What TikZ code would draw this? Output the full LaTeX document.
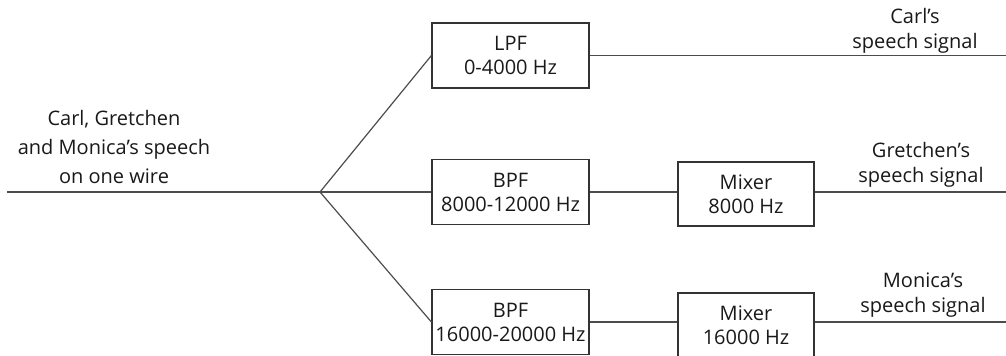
\documentclass[tikz,border=0pt]{standalone}
\usepackage{fontspec}
\setmainfont{Open Sans}
\begin{document}
\begin{tikzpicture}[x=0.5pt,y=-0.5pt,
    wire/.style={draw=black!70,line width=0.6pt},
    filterbox/.style={draw=black!80,line width=0.6pt,minimum width=78.5pt,minimum height=32.5pt,
      align=center,inner sep=0pt,font=\fontsize{10}{12}\selectfont,text=black!90},
    mixerbox/.style={filterbox,minimum width=68pt,minimum height=32pt},
    sigtext/.style={align=center,font=\fontsize{10}{12.5}\selectfont,text=black!90}]

      \clip (0,0) rectangle (1006,355);

      % blocks
      \node[filterbox] (lpf)  at (510.5,55.5) {LPF\\0-4000 Hz};
      \node[filterbox] (bpfa) at (510.5,192) {BPF\\8000-12000 Hz};
      \node[filterbox] (bpfb) at (510.5,322) {BPF\\16000-20000 Hz};
      \node[mixerbox]  (mixa) at (746,194) {Mixer\\8000 Hz};
      \node[mixerbox]  (mixb) at (746,325) {Mixer\\16000 Hz};

      % wire ends
      \coordinate (in)    at (7,192);
      \coordinate (split) at (320,192);
      \coordinate (outa)  at (1006,56);
      \coordinate (outb)  at (1006,192);
      \coordinate (outc)  at (1006,322);

      % connections
      \draw[wire] (in) -- (split);
      \draw[wire] (split) -- (lpf.west);
      \draw[wire] (split) -- (bpfa.west);
      \draw[wire] (split) -- (bpfb.west);
      \draw[wire] (lpf.east) -- (lpf.east -| outa);
      \draw[wire] (bpfa.east |- outb) -- (mixa.west |- outb);
      \draw[wire] (bpfb.east |- outc) -- (mixb.west |- outc);
      \draw[wire] (mixa.east |- outb) -- (outb);
      \draw[wire] (mixb.east |- outc) -- (outc);

      % labels
      \node[sigtext,font=\fontsize{10}{14.5}\selectfont] (inlabel) at (114,147) {Carl, Gretchen\\and Monica's speech\\on one wire};
      \node[sigtext] (carl)     at (915,31)  {Carl's\\speech signal};
      \node[sigtext] (gretchen) at (921,165) {Gretchen's\\speech signal};
      \node[sigtext] (monica)   at (923,295) {Monica's\\speech signal};

    \end{tikzpicture}
\end{document}
